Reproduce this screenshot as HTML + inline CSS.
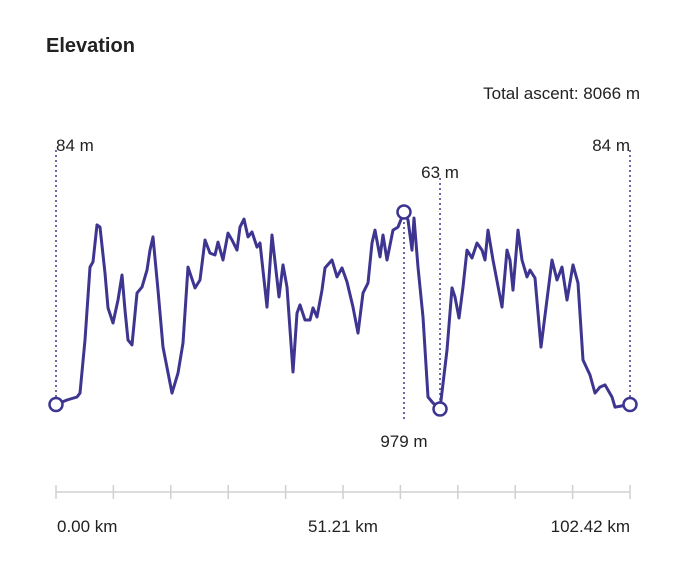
<!DOCTYPE html>
<html><head><meta charset="utf-8"><style>
body{margin:0;background:#fff;width:682px;height:562px;overflow:hidden;font-family:"Liberation Sans",sans-serif;}
svg text{font-family:"Liberation Sans",sans-serif;fill:#222;}
</style></head><body>
<svg id="chart" width="682" height="562" viewBox="0 0 682 562">
<text x="46" y="52" font-size="20" font-weight="bold">Elevation</text>
<text x="640" y="99" font-size="17" text-anchor="end">Total ascent: 8066 m</text>
<g id="axis"></g>
<g id="plot"></g>
</svg>
<script>
const distances=[0,1.96,3.75,4.28,5.17,6.07,6.60,7.32,7.85,8.74,9.28,10.17,11.06,11.78,12.31,12.85,13.56,14.45,15.35,16.24,16.77,17.31,18.20,19.09,20.70,21.77,22.66,23.55,24.80,25.69,26.59,27.48,28.37,28.91,29.80,30.69,31.40,32.30,32.83,33.55,34.26,34.97,35.87,36.40,37.65,38.54,39.79,40.50,41.22,42.29,43.00,43.54,44.43,45.32,45.86,46.57,47.46,48.00,49.25,50.14,51.03,51.92,52.99,53.89,54.78,55.67,56.39,56.92,57.81,58.35,59.06,60.13,61.02,62.09,62.81,63.52,63.88,64.59,65.49,66.38,67.27,68.52,69.77,70.66,71.19,71.91,72.62,73.34,74.23,75.12,76.01,76.55,77.08,77.97,79.58,80.47,81.01,81.54,82.43,83.15,84.04,84.58,85.47,86.54,88.50,89.40,90.29,91.18,92.25,93.14,94.04,95.28,96.18,97.07,97.96,99.21,99.74,102.42];
const elevations=[84,105,119,137,384,723,747,919,909,695,533,463,570,686,523,384,361,602,630,709,802,863,616,351,137,230,370,723,626,663,849,788,779,839,756,881,849,802,909,946,863,886,816,835,537,872,584,733,630,235,509,547,477,477,533,491,616,719,756,677,719,654,537,416,602,649,835,895,770,872,756,895,909,979,942,802,951,723,491,119,91,63,337,626,584,486,630,802,765,835,802,756,895,756,537,802,756,616,895,756,677,709,672,351,756,663,723,570,733,649,291,221,137,165,175,119,72,84];
const tickLabels=["0.00 km","51.21 km","102.42 km"];
const tickCount=11;
const NS="http://www.w3.org/2000/svg";
const X0=56,X1=630,Y63=409,Y979=212;
const maxD=distances[distances.length-1];
const minE=Math.min(...elevations),maxE=Math.max(...elevations);
const xs=d=>X0+(d/maxD)*(X1-X0);
const ys=e=>Y63+(e-minE)/(maxE-minE)*(Y979-Y63);
function mk(tag,attrs,parent){const el=document.createElementNS(NS,tag);for(const k in attrs)el.setAttribute(k,attrs[k]);parent.appendChild(el);return el;}
const axis=document.getElementById('axis'),plot=document.getElementById('plot');
let l=mk('line',{x1:X0,x2:X1,y1:492,y2:492,stroke:'#d0d0d0','stroke-width':1.5},axis);


for(let i=0;i<tickCount;i++){const x=X0+i*(X1-X0)/(tickCount-1);
 const t=mk('line',{x1:x,x2:x,y1:485,y2:499,stroke:'#d0d0d0','stroke-width':1.5},axis);
 
 }
const anchors=['start','middle','end'],tx=[X0+1,(X0+X1)/2,X1];
tickLabels.forEach((s,i)=>{const t=mk('text',{x:tx[i],y:532,'font-size':17,'text-anchor':anchors[i]},axis);t.textContent=s;
 
 });
const iMax=elevations.indexOf(maxE),iMin=elevations.indexOf(minE),iL=elevations.length-1;
function dash(x,y1,y2){const d=mk('line',{x1:x,x2:x,y1:y1,y2:y2,stroke:'#3d3590','stroke-width':1.5,'stroke-dasharray':'2 3'},plot);
 
 }
function lbl(x,y,s,anchor){const t=mk('text',{x:x,y:y,'font-size':17,'text-anchor':anchor},plot);t.textContent=s;
 
 }
dash(xs(0),150,ys(elevations[0]));lbl(xs(0),151,Math.round(elevations[0])+' m','start');
dash(xs(distances[iL]),150,ys(elevations[iL]));lbl(xs(distances[iL]),151,Math.round(elevations[iL])+' m','end');
dash(xs(distances[iMin]),178,ys(minE));lbl(xs(distances[iMin]),178,minE+' m','middle');
dash(xs(distances[iMax]),ys(maxE),420);lbl(xs(distances[iMax]),447,maxE+' m','middle');
const p=mk('path',{d:distances.map((d,i)=>(i?'L':'M')+xs(d).toFixed(1)+','+ys(elevations[i]).toFixed(1)).join(''),fill:'none',stroke:'#3d3590','stroke-width':3,'stroke-linejoin':'round'},plot);


[0,iMax,iMin,iL].forEach(i=>{const c=mk('circle',{cx:xs(distances[i]),cy:ys(elevations[i]),r:6.5,fill:'#fff',stroke:'#3d3590','stroke-width':2.5},plot);
 
 });
</script>
</body></html>
